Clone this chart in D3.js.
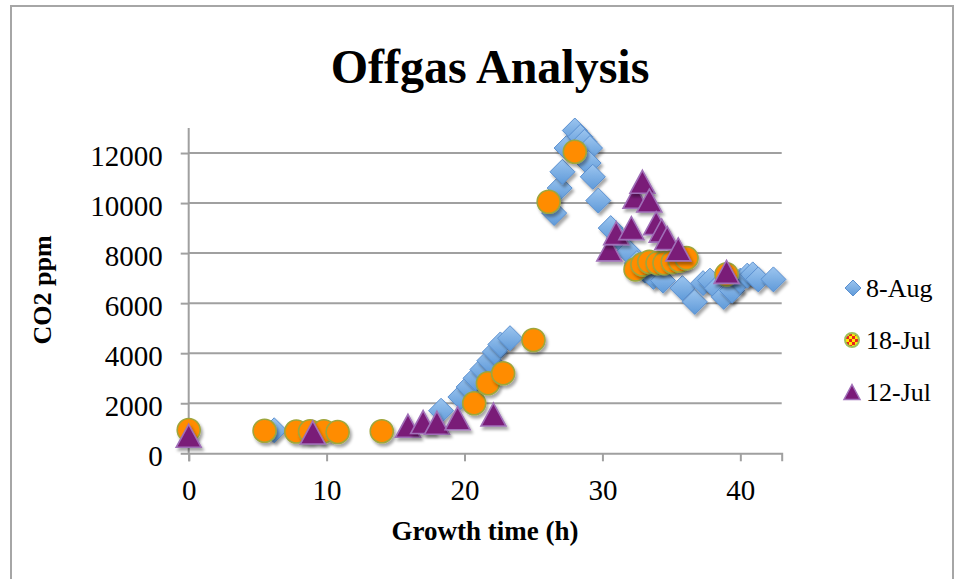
<!DOCTYPE html>
<html><head><meta charset="utf-8">
<script src="https://cdn.jsdelivr.net/npm/d3@7/dist/d3.min.js"></script>
<style>body{margin:0;background:#fff}svg{display:block}text{font-family:"Liberation Serif",serif;fill:#000}</style>
</head><body>
<script>
// ---- data ----
const xTicks = [0, 10, 20, 30, 40];
const yTicks = [0, 2000, 4000, 6000, 8000, 10000, 12000];
const seriesNames = ["8-Aug", "18-Jul", "12-Jul"];

const aug8_t = [6.2, 18.3, 19.7, 20.3, 20.8, 21.3, 21.8, 22.2, 22.6, 23.3, 26.5, 26.9, 27.1, 27.4, 28.0, 28.4, 28.7, 29.1, 29.0, 29.3, 29.7, 30.6, 31.2, 31.9, 32.5, 33.1, 33.7, 34.4, 35.8, 36.7, 37.3, 37.8, 38.3, 38.8, 39.4, 40.0, 40.5, 40.9, 41.3, 42.4];
const aug8_v = [920, 1700, 2250, 2650, 3000, 3350, 3700, 4050, 4350, 4600, 9600, 10600, 11250, 12200, 12900, 12650, 12450, 12200, 11600, 11050, 10100, 9000, 8600, 8050, 7600, 7300, 7050, 6900, 6600, 6050, 6800, 6900, 6600, 6250, 6500, 6900, 7100, 7150, 6950, 6950];

const jul18_t = [0, 5.5, 7.8, 8.8, 9.8, 10.8, 14.0, 20.7, 21.7, 22.8, 25.0, 26.1, 28.0, 32.4, 32.9, 33.4, 34.0, 34.5, 35.1, 35.6, 36.1, 39.0];
const jul18_v = [930, 900, 870, 880, 880, 850, 880, 2000, 2800, 3200, 4530, 10050, 12050, 7350, 7550, 7650, 7600, 7600, 7650, 7700, 7800, 7150];

const jul12_t = [0, 9.0, 15.9, 17.0, 18.0, 19.5, 22.1, 30.5, 31.0, 32.1, 32.4, 32.9, 33.4, 33.9, 34.3, 34.7, 35.5, 39.0];
const jul12_v = [700, 830, 1100, 1250, 1220, 1400, 1550, 8150, 8800, 9000, 10250, 10850, 10100, 9200, 8900, 8600, 8150, 7250];

const W = 956, H = 579;
const svg = d3.select("body").append("svg").attr("width", W).attr("height", H);
const defs = svg.append("defs");

const f = defs.append("filter").attr("id", "sh").attr("x", "-50%").attr("y", "-50%").attr("width", "200%").attr("height", "200%");
f.append("feDropShadow").attr("dx", 2).attr("dy", 3).attr("stdDeviation", 1.8).attr("flood-color", "#000").attr("flood-opacity", 0.35);

const g1 = defs.append("linearGradient").attr("id", "blue").attr("x1", 0).attr("y1", 0).attr("x2", 0).attr("y2", 1);
g1.append("stop").attr("offset", "0%").attr("stop-color", "#9cc5ef");
g1.append("stop").attr("offset", "100%").attr("stop-color", "#5f9ad9");

const pat = defs.append("pattern").attr("id", "chk").attr("patternUnits", "userSpaceOnUse").attr("width", 6).attr("height", 6);
pat.append("rect").attr("width", 6).attr("height", 6).attr("fill", "#ffee00");
pat.append("rect").attr("width", 3).attr("height", 3).attr("fill", "#e8231c");
pat.append("rect").attr("x", 3).attr("y", 3).attr("width", 3).attr("height", 3).attr("fill", "#e8231c");

// outer border
svg.append("rect").attr("x", 11).attr("y", 6).attr("width", 942).attr("height", 620)
  .attr("fill", "none").attr("stroke", "#a6a6a6").attr("stroke-width", 2);

const x = d3.scaleLinear().domain([0, 43]).range([188.7, 781.7]);
const y = d3.scaleLinear().domain([0, 13000]).range([453.3, 128]);

const grid = "#a0a0a0";
// gridlines
svg.append("g").selectAll("line").data(yTicks.filter(d => d > 0)).join("line")
  .attr("x1", x(0)).attr("x2", x(43)).attr("y1", d => y(d)).attr("y2", d => y(d))
  .attr("stroke", grid).attr("stroke-width", 2);

// axes
const xAxis = svg.append("g").attr("transform", `translate(0,${y(0)})`)
  .call(d3.axisBottom(x).tickValues(xTicks).tickSize(8).tickPadding(18).tickFormat(d3.format("d")));
const yAxis = svg.append("g").attr("transform", `translate(${x(0)},0)`)
  .call(d3.axisLeft(y).tickValues(yTicks).tickSize(8).tickPadding(18).tickFormat(d3.format("d")));
[xAxis, yAxis].forEach(a => {
  a.select(".domain").attr("stroke", grid).attr("stroke-width", 2);
  a.selectAll(".tick line").attr("stroke", grid).attr("stroke-width", 2);
  a.selectAll("text").attr("font-family", "Liberation Serif").attr("font-size", 29).attr("fill", "#000");
});
yAxis.select(".domain").attr("d", `M0,${y(13000)}V${y(0)}`);
yAxis.selectAll(".tick text").attr("dy", "0.42em");

// series
const sAug = aug8_t.map((t, i) => ({t, v: aug8_v[i]}));
const sJ18 = jul18_t.map((t, i) => ({t, v: jul18_v[i]}));
const sJ12 = jul12_t.map((t, i) => ({t, v: jul12_v[i]}));

const diamond = (s) => `M0,${-s}L${s},0L0,${s}L${-s},0Z`;
const tri = (w, h) => `M0,${-h/2}L${w/2},${h/2}L${-w/2},${h/2}Z`;

const plot = svg.append("g");
plot.append("g").selectAll("path").data(sAug).join("path")
  .attr("transform", d => `translate(${x(d.t)},${y(d.v)})`)
  .attr("d", diamond(12.5)).attr("fill", "url(#blue)").attr("stroke", "#5a8fcf").attr("stroke-width", 1)
  .attr("filter", "url(#sh)");
plot.append("g").selectAll("circle").data(sJ18).join("circle")
  .attr("cx", d => x(d.t)).attr("cy", d => y(d.v)).attr("r", 11.5)
  .attr("fill", "#ff8c00").attr("stroke", "#9ea63c").attr("stroke-width", 1.6)
  .attr("filter", "url(#sh)");
plot.append("g").selectAll("path").data(sJ12).join("path")
  .attr("transform", d => `translate(${x(d.t)},${y(d.v)})`)
  .attr("d", tri(25, 23)).attr("fill", "#7a1a78").attr("stroke", "#a070b8").attr("stroke-width", 1.6)
  .attr("filter", "url(#sh)");

// titles
svg.append("text").attr("x", 490).attr("y", 83).attr("text-anchor", "middle")
  .attr("font-size", 48).attr("font-weight", "bold").text("Offgas Analysis");
svg.append("text").attr("x", 485).attr("y", 540).attr("text-anchor", "middle")
  .attr("font-size", 27).attr("font-weight", "bold").text("Growth time (h)");
svg.append("text").attr("transform", "translate(51,290) rotate(-90)").attr("text-anchor", "middle")
  .attr("font-size", 26).attr("font-weight", "bold").text("CO2 ppm");

// legend
const leg = svg.append("g");
const ly = [288, 340, 392];
leg.append("path").attr("transform", `translate(853,${ly[0]})`).attr("d", diamond(8))
  .attr("fill", "url(#blue)").attr("stroke", "#5a8fcf").attr("stroke-width", 1);
leg.append("circle").attr("cx", 852).attr("cy", ly[1]).attr("r", 7)
  .attr("fill", "url(#chk)").attr("stroke", "#9ec05a").attr("stroke-width", 2);
leg.append("path").attr("transform", `translate(852,${ly[2]})`).attr("d", tri(16, 15))
  .attr("fill", "#7a1a78").attr("stroke", "#a070b8").attr("stroke-width", 1.5);
leg.selectAll("text.l").data(seriesNames).join("text").attr("class", "l")
  .attr("x", 866).attr("y", (d, i) => ly[i] + 9).attr("font-size", 26).text(d => d);
</script>
</body></html>
